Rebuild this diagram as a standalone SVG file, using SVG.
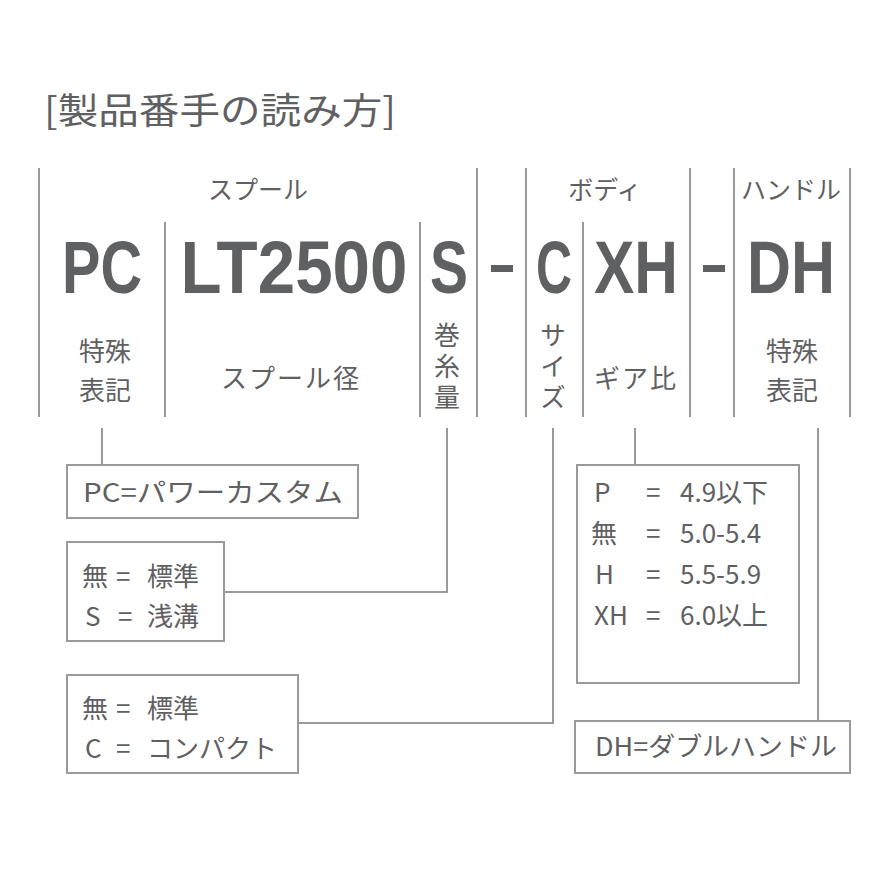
<svg xmlns="http://www.w3.org/2000/svg" width="876" height="876" viewBox="0 0 876 876">
<style>
.t{font-family:"Noto Sans CJK JP","Noto Sans",sans-serif;fill:#5f6062;font-weight:400}
.big{font-family:"Liberation Sans",Arial,sans-serif;font-weight:bold;fill:#5f6062;font-size:74px;text-anchor:middle}
.hd{font-size:25px;text-anchor:middle}
.sub{font-size:26px;text-anchor:middle}
.vt{font-size:26px;writing-mode:vertical-rl;letter-spacing:5px}
.bx{font-size:26px}
.sep{stroke:#9a9a9a;stroke-width:2;fill:none}
.box{stroke:#9a9a9a;stroke-width:2;fill:#fff}
</style>
<rect width="876" height="876" fill="#fff"/>
<text class="t" x="44" y="124" font-size="36" textLength="352" lengthAdjust="spacingAndGlyphs">[製品番手の読み方]</text>

<g id="separators">
<line class="sep" x1="39" y1="168" x2="39" y2="417"/>
<line class="sep" x1="165" y1="222" x2="165" y2="417"/>
<line class="sep" x1="420" y1="222" x2="420" y2="417"/>
<line class="sep" x1="477" y1="168" x2="477" y2="417"/>
<line class="sep" x1="526" y1="168" x2="526" y2="417"/>
<line class="sep" x1="583" y1="222" x2="583" y2="417"/>
<line class="sep" x1="690" y1="168" x2="690" y2="417"/>
<line class="sep" x1="734" y1="168" x2="734" y2="417"/>
<line class="sep" x1="850" y1="168" x2="850" y2="417"/>
</g>

<g id="headers">
<text class="t hd" x="258" y="199">スプール</text>
<text class="t hd" x="605" y="199">ボディ</text>
<text class="t hd" x="791" y="199">ハンドル</text>
</g>

<g id="codes">
<text class="big" x="102" y="293" textLength="80" lengthAdjust="spacingAndGlyphs">PC</text>
<text class="big" x="294" y="293" textLength="227" lengthAdjust="spacingAndGlyphs">LT2500</text>
<text class="big" x="449" y="293" textLength="38" lengthAdjust="spacingAndGlyphs">S</text>
<rect x="491" y="265" width="22" height="7" fill="#5f6062"/>
<text class="big" x="554" y="293" textLength="36" lengthAdjust="spacingAndGlyphs">C</text>
<text class="big" x="636" y="293" textLength="84" lengthAdjust="spacingAndGlyphs">XH</text>
<rect x="703" y="265" width="22" height="7" fill="#5f6062"/>
<text class="big" x="791" y="293" textLength="88" lengthAdjust="spacingAndGlyphs">DH</text>
</g>

<g id="labels">
<text class="t sub" x="105" y="361">特殊</text>
<text class="t sub" x="105" y="400">表記</text>
<text class="t sub" x="291" y="388" letter-spacing="2">スプール径</text>
<text class="t vt" x="447" y="322">巻糸量</text>
<text class="t vt" x="553" y="322">サイズ</text>
<text class="t sub" x="636" y="388" letter-spacing="2">ギア比</text>
<text class="t sub" x="792" y="361">特殊</text>
<text class="t sub" x="792" y="400">表記</text>
</g>

<g id="connectors">
<polyline class="sep" points="102,428 102,465"/>
<polyline class="sep" points="224,592 447,592 447,428"/>
<polyline class="sep" points="298,723 553,723 553,428"/>
<polyline class="sep" points="635,428 635,465"/>
<polyline class="sep" points="818,428 818,721"/>
</g>

<g id="box-pc">
<rect class="box" x="67" y="465" width="291" height="53"/>
<text class="t bx" x="83" y="502" textLength="260" lengthAdjust="spacingAndGlyphs">PC=パワーカスタム</text>
</g>
<g id="box-s">
<rect class="box" x="67" y="542" width="157" height="99"/>
<text class="t bx" y="586"><tspan x="82">無</tspan><tspan x="116">=</tspan><tspan x="147">標準</tspan></text>
<text class="t bx" y="626"><tspan x="85">S</tspan><tspan x="118">=</tspan><tspan x="147">浅溝</tspan></text>
</g>
<g id="box-c">
<rect class="box" x="67" y="675" width="231" height="98"/>
<text class="t bx" y="718"><tspan x="82">無</tspan><tspan x="116">=</tspan><tspan x="147">標準</tspan></text>
<text class="t bx" y="758"><tspan x="85">C</tspan><tspan x="116">=</tspan><tspan x="147">コンパクト</tspan></text>
</g>
<g id="box-gear">
<rect class="box" x="577" y="465" width="222" height="218"/>
<text class="t bx" x="594" y="502">P</text><text class="t bx" x="646" y="502">=</text><text class="t bx" x="680" y="502">4.9以下</text>
<text class="t bx" x="591" y="543">無</text><text class="t bx" x="646" y="543">=</text><text class="t bx" x="680" y="543">5.0-5.4</text>
<text class="t bx" x="595" y="584">H</text><text class="t bx" x="646" y="584">=</text><text class="t bx" x="680" y="584">5.5-5.9</text>
<text class="t bx" x="594" y="625">XH</text><text class="t bx" x="646" y="625">=</text><text class="t bx" x="680" y="625">6.0以上</text>
</g>
<g id="box-dh">
<rect class="box" x="575" y="721" width="275" height="52"/>
<text class="t bx" x="595" y="756" textLength="242" lengthAdjust="spacingAndGlyphs">DH=ダブルハンドル</text>
</g>
</svg>
